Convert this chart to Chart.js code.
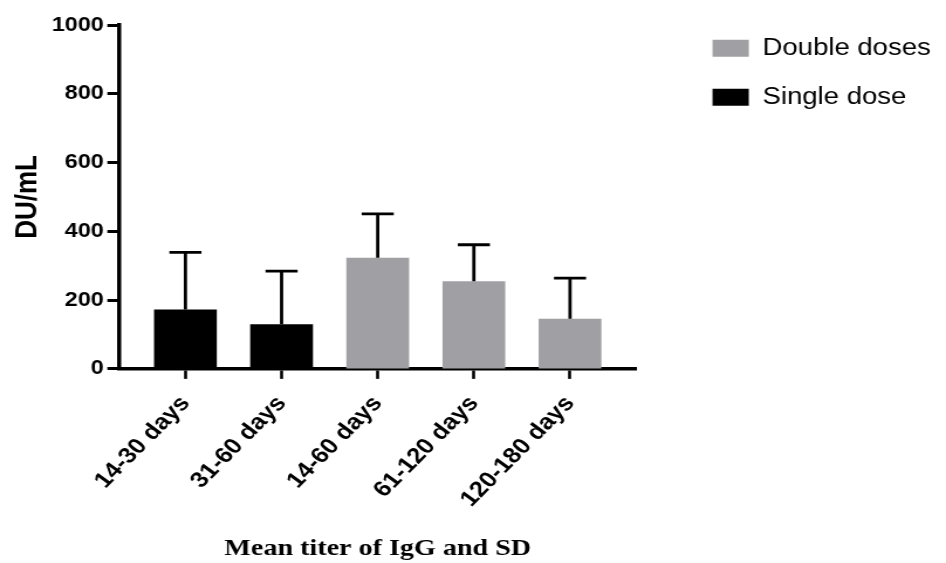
<!DOCTYPE html>
<html>
<head>
<meta charset="utf-8">
<script src="https://cdn.jsdelivr.net/npm/chart.js@4/dist/chart.umd.min.js"></script>
<style>
  html, body { margin: 0; padding: 0; background: #fff; overflow: hidden; }
  /* the reference lettering is wider than tall, so the canvas is stretched sideways */
  #chart { display: block; transform: scaleX(1.1708); transform-origin: 0 0; }
</style>
</head>
<body>
<canvas id="chart" width="808" height="563"></canvas>
<script>
// Data
const categories = ["14-30 days", "31-60 days", "14-60 days", "61-120 days", "120-180 days"];
const singleDoseMean = [173, 130, null, null, null];
const doubleDoseMean = [null, null, 323, 255, 146];
const sdValues = [166, 154, 128, 106, 118];
const yTicks = [0, 200, 400, 600, 800, 1000];

const toPoints = arr => arr
    .map((v, i) => ({ x: i, y: v }))
    .filter(p => p.y !== null);

Chart.defaults.color = "#000";
Chart.defaults.font.family = "'Liberation Sans', Arial, sans-serif";

// Upward SD bars
const errorBars = {
    id: "errorBars",
    afterDatasetsDraw(chart) {
        const ctx = chart.ctx;
        const xs = chart.scales.x;
        const ys = chart.scales.y;
        ctx.save();
        ctx.strokeStyle = "#000";
        ctx.lineWidth = 2.8;
        ctx.lineCap = "butt";
        categories.forEach((c, i) => {
            const mean = singleDoseMean[i] !== null ? singleDoseMean[i] : doubleDoseMean[i];
            const x = xs.getPixelForValue(i);
            const y0 = ys.getPixelForValue(mean);
            const y1 = ys.getPixelForValue(mean + sdValues[i]);
            ctx.beginPath();
            ctx.moveTo(x, y0);
            ctx.lineTo(x, y1);
            ctx.moveTo(x - 13.7, y1);
            ctx.lineTo(x + 13.7, y1);
            ctx.stroke();
        });
        ctx.restore();
    }
};

const ctx = document.getElementById("chart").getContext("2d");
new Chart(ctx, {
    type: "bar",
    data: {
        datasets: [
            {
                label: "Double doses",
                data: toPoints(doubleDoseMean),
                backgroundColor: "#a09fa4",
                borderWidth: 0,
                grouped: false
            },
            {
                label: "Single dose",
                data: toPoints(singleDoseMean),
                backgroundColor: "#000000",
                borderWidth: 0,
                grouped: false
            }
        ]
    },
    options: {
        responsive: false,
        animation: false,
        devicePixelRatio: 1,
        barPercentage: 0.653,
        categoryPercentage: 1,
        layout: { padding: { top: 11, left: 0, right: 3, bottom: 0 } },
        plugins: {
            legend: {
                position: "right",
                align: "start",
                maxWidth: 230,
                labels: {
                    boxWidth: 31,
                    boxHeight: 17,
                    padding: 25.5,
                    font: { size: 23.5 },
                    color: "#000"
                }
            },
            tooltip: { enabled: false }
        },
        scales: {
            x: {
                type: "linear",
                offset: false,
                min: -0.69,
                max: 4.69,
                afterBuildTicks: s => {
                    s.ticks = categories.map((c, i) => ({ value: i }));
                },
                ticks: {
                    callback: v => categories[v],
                    minRotation: 49.5,
                    maxRotation: 49.5,
                    autoSkip: false,
                    padding: 12,
                    font: { size: 22, weight: "bold" }
                },
                grid: {
                    offset: false,
                    drawOnChartArea: false,
                    tickLength: 10,
                    tickWidth: 2.6,
                    tickColor: "#000"
                },
                border: { color: "#000", width: 3.5 },
                title: {
                    display: true,
                    text: "Mean titer of IgG and SD",
                    font: { family: "'Liberation Serif', 'Times New Roman', serif", size: 24, weight: "bold" },
                    padding: { top: 10, bottom: 0 }
                }
            },
            y: {
                min: 0,
                max: 1000,
                afterBuildTicks: s => {
                    s.ticks = yTicks.map(v => ({ value: v }));
                },
                afterFit: s => { s.paddingTop = 25; },
                ticks: {
                    padding: 3,
                    callback: v => String(v),
                    font: { size: 20, weight: "bold" }
                },
                grid: {
                    drawOnChartArea: false,
                    tickLength: 10,
                    tickWidth: 3,
                    tickColor: "#000"
                },
                border: { color: "#000", width: 3.5 },
                title: {
                    display: true,
                    text: "DU/mL",
                    font: { size: 26, weight: "bold" },
                    padding: { top: 8, bottom: 2 }
                }
            },
            // empty axis, only keeps a gap between plot and legend
            gap: {
                type: "linear",
                position: "right",
                grid: { display: false },
                ticks: { display: false },
                border: { display: false },
                afterFit: s => { s.width = 39.5; }
            }
        }
    },
    plugins: [errorBars]
});
</script>
</body>
</html>
